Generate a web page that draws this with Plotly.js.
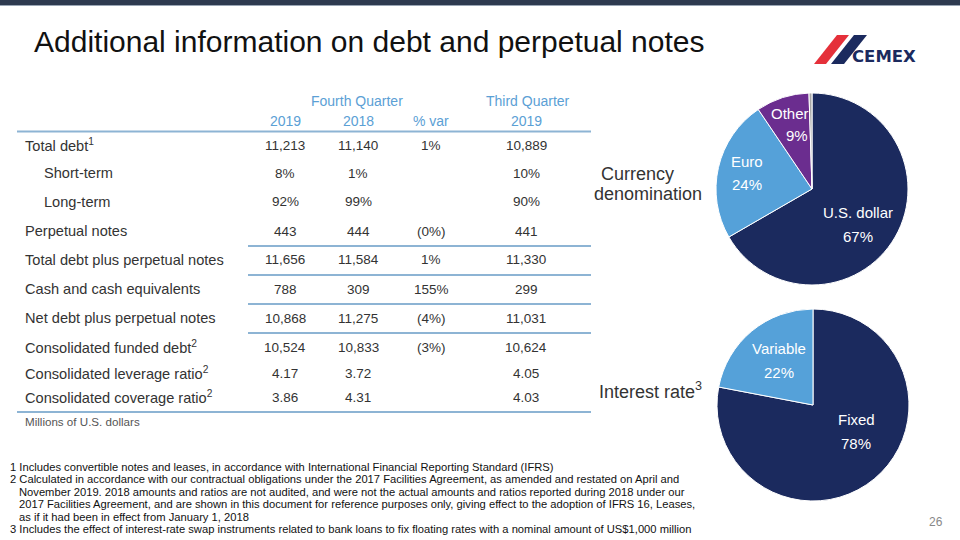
<!DOCTYPE html>
<html>
<head>
<meta charset="utf-8">
<script src="https://cdn.plot.ly/plotly-3.0.1.min.js"></script>
<style>html,body{margin:0;padding:0;background:#fff;}#chart{width:960px;height:540px;}</style>
</head>
<body>
<div id="chart"></div>
<script>
// ---- Data ----
const headerGroups = ['Fourth Quarter', 'Third Quarter'];
const colHeaders = ['2019', '2018', '% var', '2019'];
const rowLabels = ['Total debt<sup>1</sup>', 'Short-term', 'Long-term', 'Perpetual notes',
  'Total debt plus perpetual notes', 'Cash and cash equivalents', 'Net debt plus perpetual notes',
  'Consolidated funded debt<sup>2</sup>', 'Consolidated leverage ratio<sup>2</sup>', 'Consolidated coverage ratio<sup>2</sup>'];
const q4_2019 = ['11,213', '8%', '92%', '443', '11,656', '788', '10,868', '10,524', '4.17', '3.86'];
const q4_2018 = ['11,140', '1%', '99%', '444', '11,584', '309', '11,275', '10,833', '3.72', '4.31'];
const pctVar  = ['1%', '', '', '(0%)', '1%', '155%', '(4%)', '(3%)', '', ''];
const q3_2019 = ['10,889', '10%', '90%', '441', '11,330', '299', '11,031', '10,624', '4.05', '4.03'];
const unitNote = 'Millions of U.S. dollars';

const currencyLabels = ['U.S. dollar', 'Euro', 'Other', ''];
const currencyValues = [67, 24, 9, 0.5];
const rateLabels = ['Fixed', 'Variable'];
const rateValues = [78, 22];

const footnotes = [
  '1 Includes convertible notes and leases, in accordance with International Financial Reporting Standard (IFRS)',
  '2 Calculated in accordance with our contractual obligations under the 2017 Facilities Agreement, as amended and restated on April and',
  '  November 2019. 2018 amounts and ratios are not audited, and were not the actual amounts and ratios reported during 2018 under our',
  '  2017 Facilities Agreement, and are shown in this document for reference purposes only, giving effect to the adoption of IFRS 16, Leases,',
  '  as if it had been in effect from January 1, 2018',
  '3 Includes the effect of interest-rate swap instruments related to bank loans to fix floating rates with a nominal amount of US$1,000 million'
];

// ---- Layout helpers (pixel -> paper) ----
const W = 960, H = 540;
const px = x => x / W;
const py = y => 1 - y / H;

const NAVY = '#1B2A5E', LBLUE = '#55A1D9', PURPLE = '#6B2D8F', GRAY = '#A6A6A6';
const HEAD = '#5BA0D5', TXT = '#333333', LINE = '#8DB4D4';
const LABF = 'Liberation Sans, Arial, sans-serif';
const NUMF = 'Liberation Sans, Arial, sans-serif';

const ann = [];
function t(text, x, y, opts) {
  opts = opts || {};
  ann.push({
    text: text, x: px(x), y: py(y), xref: 'paper', yref: 'paper', showarrow: false,
    xanchor: opts.xa || 'center', yanchor: 'middle', align: opts.align || 'left',
    font: {family: opts.family || LABF, size: opts.size || 14, color: opts.color || TXT}
  });
}

// Title
t('Additional information on debt and perpetual notes', 32, 42, {xa: 'left', size: 30, color: '#111111'});

// Table header
t(headerGroups[0], 357, 101, {size: 14, color: HEAD});
t(headerGroups[1], 528, 101, {size: 14, color: HEAD});
const colX = [285, 358, 431, 526];
colHeaders.forEach((h, i) => t(h, colX[i], 121, {size: 14, color: HEAD}));

// Table rows
const rowY = [145, 173, 202, 231, 260, 289, 318, 347, 373, 397];
const indent = [0, 1, 1, 0, 0, 0, 0, 0, 0, 0];
rowLabels.forEach((lab, i) => {
  t(lab, indent[i] ? 42 : 23, rowY[i], {xa: 'left', size: 14.6});
  t(q4_2019[i], colX[0], rowY[i], {family: NUMF, size: 13.5});
  t(q4_2018[i], colX[1], rowY[i], {family: NUMF, size: 13.5});
  if (pctVar[i]) t(pctVar[i], colX[2], rowY[i], {family: NUMF, size: 13.5});
  t(q3_2019[i], colX[3], rowY[i], {family: NUMF, size: 13.5});
});
t(unitNote, 23, 421, {xa: 'left', size: 11.6, color: '#555555'});

// Side labels for pies
t('Currency', 637, 174, {size: 18});
t('denomination', 648, 194, {size: 18});
t('Interest rate<sup>3</sup>', 597, 390, {xa: 'left', size: 18});

// Pie labels (text from data arrays)
const pct = (v, tot) => Math.round(v / tot * 100) + '%';
const cTot = 100;
const cPos = [[858, 213, 236], [747, 161, 184], [790, 113, 136]];
for (let i = 0; i < 3; i++) {
  t(currencyLabels[i], cPos[i][0], cPos[i][1], {size: 15, color: '#ffffff'});
  t(pct(currencyValues[i], cTot), cPos[i][0] + (i === 2 ? 7 : 0), cPos[i][2], {size: 15, color: '#ffffff'});
}
const rPos = [[856, 419, 443], [779, 348, 372]];
const rTot = rateValues.reduce((a, b) => a + b, 0);
for (let i = 0; i < 2; i++) {
  t(rateLabels[i], rPos[i][0], rPos[i][1], {size: 15, color: '#ffffff'});
  t(pct(rateValues[i], rTot), rPos[i][0], rPos[i][2], {size: 15, color: '#ffffff'});
}

// Footnotes
const fnY0 = 467, fnDy = 12.4;
footnotes.forEach((f, i) => t(f.replace(/^  /, ''), (i === 0 || i === 1 || i === 5) ? 8 : 17, fnY0 + i * fnDy,
  {xa: 'left', family: NUMF, size: 11.2, color: '#111111'}));

// Page number
t('26', 936, 522, {size: 12, color: '#888888'});

// Logo text
ann.push({text: '<b>CEMEX</b>', x: px(850), y: py(56), xref: 'paper', yref: 'paper', showarrow: false,
  xanchor: 'left', yanchor: 'middle', font: {family: 'DejaVu Sans, sans-serif', size: 16.5, color: '#1B2A5E'}});

// Shapes
const shapes = [];
function hline(x0, x1, y, color, w) {
  shapes.push({type: 'line', xref: 'paper', yref: 'paper', x0: px(x0), x1: px(x1), y0: py(y), y1: py(y),
    line: {color: color, width: w}});
}
// top bar
shapes.push({type: 'rect', xref: 'paper', yref: 'paper', x0: 0, x1: 1, y0: py(5), y1: 1,
  fillcolor: '#2E3A4F', line: {width: 0}});
shapes.push({type: 'rect', xref: 'paper', yref: 'paper', x0: 0, x1: 1, y0: py(6), y1: py(5),
  fillcolor: '#9AA6B5', line: {width: 0}});
hline(17, 591, 131.5, LINE, 2);
[246, 275, 304, 333].forEach(y => hline(248, 591, y, LINE, 2));
hline(17, 591, 412, LINE, 2);

// logo slashes
function poly(pts, color) {
  const p = pts.map((q, i) => (i ? 'L' : 'M') + px(q[0]) + ',' + py(q[1])).join(' ') + ' Z';
  shapes.push({type: 'path', xref: 'paper', yref: 'paper', path: p, fillcolor: color, line: {width: 0}});
}
poly([[837, 35], [849, 35], [826, 64], [814, 64]], '#E5303A');
poly([[854, 35], [867, 35], [844, 64], [831, 64]], '#1B2A5E');

const data = [
  {type: 'pie', labels: currencyLabels.map((l, i) => l || 'n/a'), values: currencyValues,
   marker: {colors: [NAVY, LBLUE, PURPLE, GRAY], line: {color: '#ffffff', width: 1}},
   sort: false, direction: 'clockwise', rotation: 0, textinfo: 'none', hoverinfo: 'label+percent',
   domain: {x: [px(716), px(908)], y: [py(285), py(93)]}, showlegend: false},
  {type: 'pie', labels: rateLabels, values: rateValues,
   marker: {colors: [NAVY, LBLUE], line: {color: '#ffffff', width: 1}},
   sort: false, direction: 'clockwise', rotation: 0, textinfo: 'none', hoverinfo: 'label+percent',
   domain: {x: [px(717), px(909)], y: [py(501), py(309)]}, showlegend: false}
];

const layout = {
  width: W, height: H, margin: {l: 0, r: 0, t: 0, b: 0},
  paper_bgcolor: '#ffffff', plot_bgcolor: '#ffffff', showlegend: false,
  annotations: ann, shapes: shapes
};
Plotly.newPlot('chart', data, layout, {staticPlot: true, displayModeBar: false});
</script>
</body>
</html>
